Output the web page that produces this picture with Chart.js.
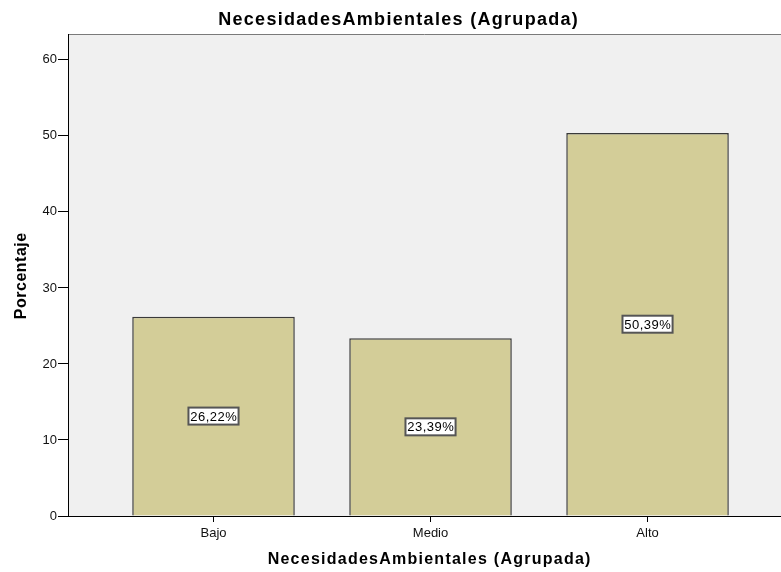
<!DOCTYPE html>
<html>
<head>
<meta charset="utf-8">
<script src="https://cdn.jsdelivr.net/npm/chart.js@4"></script>
<style>
  html, body { margin: 0; padding: 0; background: #fff; }
  #wrap { width: 781px; height: 572px; position: relative; }
</style>
</head>
<body>
<div id="wrap"><canvas id="chart"></canvas></div>
<script>
// Data
const categories = ['Bajo', 'Medio', 'Alto'];
const percentages = [26.22, 23.39, 50.39];
const yTicks = [0, 10, 20, 30, 40, 50, 60];

const chartTitle = 'NecesidadesAmbientales (Agrupada)';
const xTitle = 'NecesidadesAmbientales (Agrupada)';
const yTitle = 'Porcentaje';

const fontFamily = '"Liberation Sans", Arial, sans-serif';

// draw text with a little extra letter spacing, centred on x
function spacedText(ctx, text, x, y, spacing) {
  ctx.letterSpacing = spacing + 'px';
  const w = ctx.measureText(text).width - spacing;
  ctx.textAlign = 'left';
  ctx.fillText(text, x - w / 2, y);
  ctx.letterSpacing = '0px';
}

// Grey plot background with top border, plus all titles
const plotBackground = {
  id: 'plotBackground',
  beforeDraw(chart) {
    const { ctx, chartArea } = chart;
    ctx.save();
    ctx.fillStyle = '#f0f0f0';
    ctx.fillRect(chartArea.left, chartArea.top, chartArea.right - chartArea.left, chartArea.bottom - chartArea.top);
    ctx.strokeStyle = '#7a7a7a';
    ctx.lineWidth = 1;
    ctx.beginPath();
    ctx.moveTo(chartArea.left, chartArea.top + 0.5);
    ctx.lineTo(chartArea.right, chartArea.top + 0.5);
    ctx.stroke();

    ctx.fillStyle = '#000';
    ctx.textBaseline = 'middle';

    // main title
    ctx.font = 'bold 18px ' + fontFamily;
    spacedText(ctx, chartTitle, 398, 20, 1.3);

    // x axis title
    ctx.font = 'bold 16px ' + fontFamily;
    spacedText(ctx, xTitle, 429, 560, 1.25);

    // y axis title
    ctx.save();
    ctx.translate(22, 276);
    ctx.rotate(-Math.PI / 2);
    ctx.font = 'bold 16px ' + fontFamily;
    spacedText(ctx, yTitle, 0, 0, 0.5);
    ctx.restore();

    ctx.restore();
  }
};

// Boxed percentage labels in the middle of each bar
const barLabels = {
  id: 'barLabels',
  afterDatasetsDraw(chart) {
    const { ctx } = chart;
    const meta = chart.getDatasetMeta(0);
    ctx.save();
    ctx.font = '13px ' + fontFamily;
    ctx.textBaseline = 'middle';
    meta.data.forEach((bar, i) => {
      const text = percentages[i].toFixed(2).replace('.', ',') + '%';
      const cx = bar.x;
      const cy = (bar.y + bar.base) / 2;
      ctx.letterSpacing = '0.5px';
      const w = ctx.measureText(text).width + 3;
      ctx.letterSpacing = '0px';
      const h = 17;
      ctx.fillStyle = '#fff';
      ctx.fillRect(cx - w / 2, cy - h / 2, w, h);
      ctx.strokeStyle = '#555';
      ctx.lineWidth = 2;
      ctx.strokeRect(cx - w / 2, cy - h / 2, w, h);
      ctx.fillStyle = '#000';
      spacedText(ctx, text, cx, cy + 1, 0.5);
    });
    ctx.restore();
  }
};

const ctx = document.getElementById('chart').getContext('2d');
const chart = new Chart(ctx, {
  type: 'bar',
  data: {
    datasets: [{
      data: percentages.map((v, i) => ({ x: i, y: v })),
      backgroundColor: '#d3cd98',
      borderColor: '#3a3a3a',
      borderWidth: 1.5,
      barPercentage: 0.749,
      categoryPercentage: 1
    }]
  },
  options: {
    responsive: true,
    maintainAspectRatio: false,
    animation: false,
    layout: { padding: { top: 34, right: 0, left: 0, bottom: 0 } },
    plugins: {
      legend: { display: false },
      title: { display: false },
      tooltip: { enabled: false }
    },
    scales: {
      x: {
        type: 'linear',
        offset: false,
        min: -0.6705,
        max: 2.615,
        afterBuildTicks: scale => { scale.ticks = categories.map((c, i) => ({ value: i })); },
        afterFit: scale => { scale.height = 56; },
        ticks: {
          callback: v => categories[v],
          color: '#111',
          font: { family: fontFamily, size: 13 },
          padding: 4,
          maxRotation: 0
        },
        grid: { offset: false, drawOnChartArea: false, drawTicks: true, tickLength: 6, color: '#000' },
        border: { display: true, color: '#000', width: 1 }
      },
      y: {
        min: 0,
        max: 63.4,
        afterBuildTicks: scale => { scale.ticks = yTicks.map(v => ({ value: v })); },
        afterFit: scale => { scale.width = 68; },
        ticks: {
          color: '#111',
          font: { family: fontFamily, size: 13 },
          padding: 1
        },
        grid: { drawOnChartArea: false, drawTicks: true, tickLength: 10, color: '#000' },
        border: { display: true, color: '#000', width: 1 }
      }
    }
  },
  plugins: [plotBackground, barLabels]
});
</script>
</body>
</html>
